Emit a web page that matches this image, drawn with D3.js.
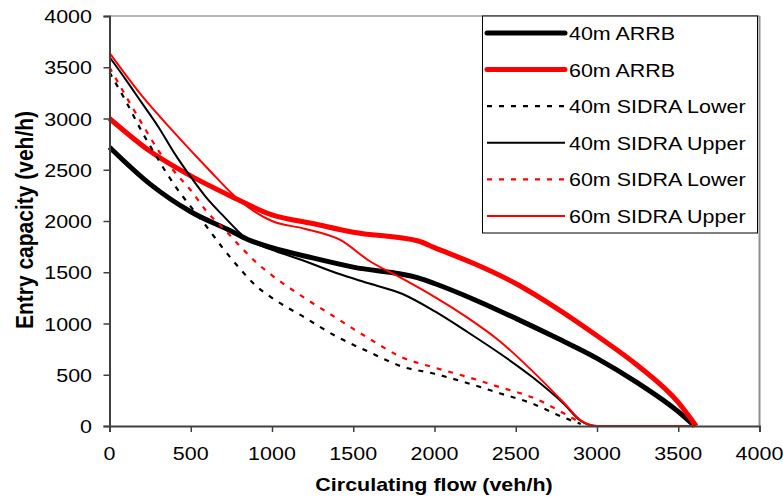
<!DOCTYPE html>
<html><head><meta charset="utf-8">
<script src="https://cdn.jsdelivr.net/npm/d3@7/dist/d3.min.js"></script>
<style>body{margin:0;background:#fff}svg text{font-family:"Liberation Sans",Arial,sans-serif;fill:#000}</style>
</head><body><svg id="c" width="783" height="497"></svg>
<script>
// ---------- data ----------
const xTicks = [0, 500, 1000, 1500, 2000, 2500, 3000, 3500, 4000];
const yTicks = [0, 500, 1000, 1500, 2000, 2500, 3000, 3500, 4000];
const seriesNames = ["40m ARRB", "60m ARRB", "40m SIDRA Lower", "40m SIDRA Upper", "60m SIDRA Lower", "60m SIDRA Upper"];

const arrb40Flow = [0, 250, 500, 750, 850, 1000, 1250, 1500, 1900, 2000, 2250, 2500, 2750, 3000, 3250, 3500, 3600];
const arrb40Cap  = [2720, 2360, 2090, 1900, 1820, 1740, 1640, 1550, 1445, 1390, 1230, 1050, 860, 660, 420, 140, 0];

const arrb60Flow = [0, 250, 500, 750, 1000, 1250, 1500, 1900, 2000, 2250, 2500, 2750, 3000, 3250, 3500, 3610];
const arrb60Cap  = [3000, 2680, 2440, 2240, 2060, 1975, 1890, 1805, 1740, 1580, 1390, 1150, 880, 590, 230, 0];

const sidraLow40Flow = [0, 100, 200, 300, 400, 500, 600, 700, 800, 900, 1000, 1200, 1400, 1600, 1800, 2000, 2200, 2400, 2600, 2800, 2900];
const sidraLow40Cap  = [3450, 3170, 2870, 2600, 2350, 2140, 1940, 1730, 1540, 1370, 1250, 1060, 870, 720, 580, 510, 420, 320, 220, 80, 20];

const sidraUp40Flow = [0, 100, 200, 300, 400, 500, 600, 700, 850, 1000, 1200, 1400, 1600, 1800, 2000, 2200, 2400, 2600, 2800, 2900, 3000, 3600];
const sidraUp40Cap  = [3600, 3380, 3150, 2920, 2660, 2430, 2220, 2050, 1820, 1720, 1610, 1490, 1390, 1290, 1120, 920, 710, 480, 210, 50, 0, 0];

const sidraLow60Flow = [0, 100, 200, 300, 400, 500, 600, 700, 800, 900, 1000, 1200, 1400, 1600, 1800, 2000, 2200, 2400, 2600, 2800, 2900];
const sidraLow60Cap  = [3500, 3220, 2950, 2690, 2480, 2300, 2090, 1930, 1760, 1600, 1470, 1250, 1050, 850, 670, 570, 480, 380, 280, 120, 30];

const sidraUp60Flow = [0, 200, 400, 600, 800, 1000, 1200, 1420, 1600, 1800, 2000, 2200, 2400, 2600, 2800, 2900, 3000, 3600];
const sidraUp60Cap  = [3640, 3220, 2860, 2520, 2200, 2000, 1925, 1815, 1610, 1440, 1260, 1060, 830, 540, 220, 55, 0, 0];

const seriesFlows = [arrb40Flow, arrb60Flow, sidraLow40Flow, sidraUp40Flow, sidraLow60Flow, sidraUp60Flow];
const seriesCaps  = [arrb40Cap, arrb60Cap, sidraLow40Cap, sidraUp40Cap, sidraLow60Cap, sidraUp60Cap];

// ---------- styles ----------
const colors = ["#000", "#ff0000", "#000", "#000", "#ff0000", "#ff0000"];
const widths = [5, 5, 2.2, 2, 2.2, 2];
const dashes = [null, null, "5,7", null, "5,7", null];
const SX = 1.13;

const svg = d3.select("#c");
const x = d3.scaleLinear().domain([0, 4000]).range([109.5, 759.5]);
const y = d3.scaleLinear().domain([0, 4000]).range([426, 16]);

// plot frame (top & right grey)
svg.append("line").attr("x1", x(0)).attr("x2", x(4000)).attr("y1", y(4000)).attr("y2", y(4000))
  .attr("stroke", "#a0a0a0").attr("stroke-width", 1.5);
svg.append("line").attr("x1", x(4000)).attr("x2", x(4000)).attr("y1", y(4000)).attr("y2", y(0))
  .attr("stroke", "#909090").attr("stroke-width", 2);

// series
const line = d3.line().x(d => x(d[0])).y(d => y(d[1])).curve(d3.curveMonotoneX);
const plotG = svg.append("g");
seriesNames.forEach((n, i) => {
  const pts = seriesFlows[i].map((f, j) => [f, seriesCaps[i][j]]);
  const p = plotG.append("path").datum(pts).attr("d", line)
    .attr("fill", "none").attr("stroke", colors[i]).attr("stroke-width", widths[i])
    .attr("stroke-linejoin", "round");
  if (dashes[i]) p.attr("stroke-dasharray", dashes[i]);
});

// axes
const axisColor = "#404040";
const yAxis = svg.append("g").attr("transform", `translate(${x(0)},0)`)
  .call(d3.axisLeft(y).tickValues(yTicks).tickSize(6).tickFormat(""));
const xAxis = svg.append("g").attr("transform", `translate(0,${y(0)})`)
  .call(d3.axisBottom(x).tickValues(xTicks).tickSize(6).tickFormat(""));
[yAxis, xAxis].forEach(a => {
  a.select(".domain").attr("stroke", axisColor).attr("stroke-width", 2);
  a.selectAll(".tick line").attr("stroke", axisColor).attr("stroke-width", 1.5);
});

function stxt(px, py, s, anchor, size, bold) {
  return svg.append("text").attr("transform", `translate(${px},${py}) scale(${SX},1)`)
    .attr("text-anchor", anchor).style("font-size", size + "px")
    .style("font-weight", bold ? "bold" : "normal").text(s);
}
yTicks.forEach(v => stxt(92, y(v) + 7, String(v), "end", 19, false));
xTicks.forEach(v => stxt(x(v), 460, String(v), "middle", 19, false));

// axis titles
stxt(434, 491, "Circulating flow (veh/h)", "middle", 19, true);
svg.append("text").attr("transform", `translate(33,220) scale(${SX},1) rotate(-90)`)
  .attr("text-anchor", "middle").style("font-size", "21px").style("font-weight", "bold")
  .text("Entry capacity (veh/h)");

// legend
const lg = svg.append("g");
lg.append("rect").attr("x", 482.5).attr("y", 16).attr("width", 275).attr("height", 217)
  .attr("fill", "#fff").attr("stroke", "#000").attr("stroke-width", 1);
seriesNames.forEach((n, i) => {
  const cy = 33 + i * 36.6;
  const l = lg.append("line").attr("x1", 487).attr("x2", 565).attr("y1", cy).attr("y2", cy)
    .attr("stroke", colors[i]).attr("stroke-width", widths[i]).attr("stroke-linecap", i < 2 ? "round" : "butt");
  if (dashes[i]) l.attr("stroke-dasharray", dashes[i]);
  stxt(569, cy + 7, n, "start", 19, false);
});
</script></body></html>
